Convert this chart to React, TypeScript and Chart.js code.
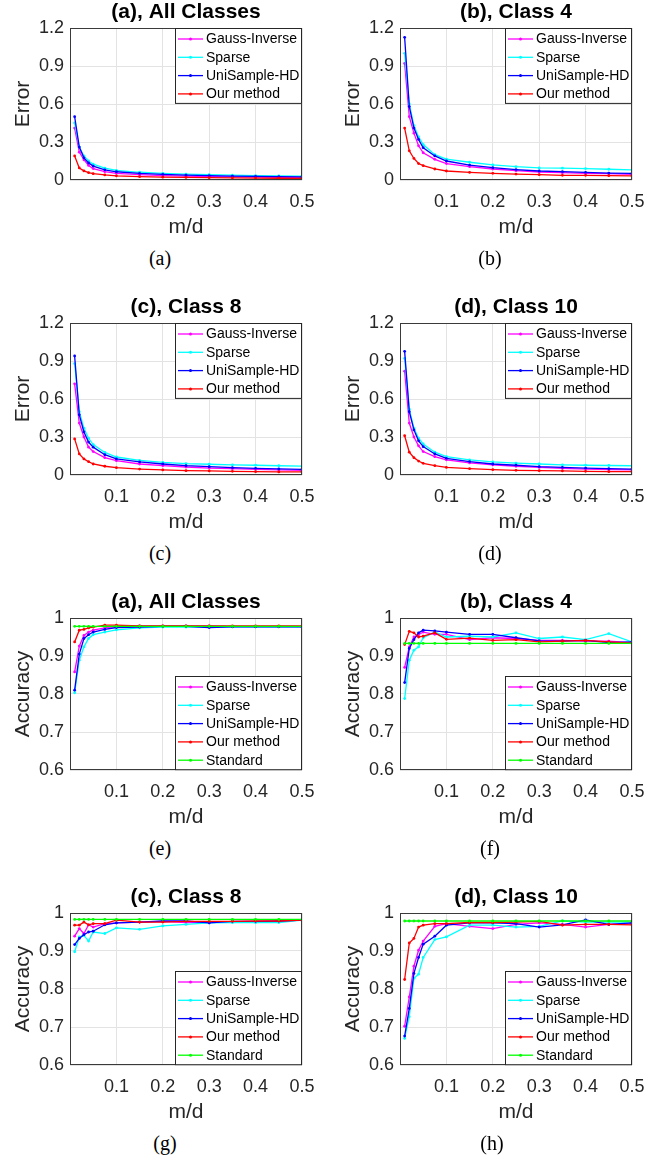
import React, { useEffect, useRef } from "react";
import { Chart, registerables } from "chart.js";
Chart.register(...registerables);

const mdValues = [0.01, 0.02, 0.03, 0.04, 0.05, 0.075, 0.1, 0.15, 0.2, 0.25, 0.3, 0.35, 0.4, 0.45, 0.5];
const xTickValues = [0.1, 0.2, 0.3, 0.4, 0.5];
const errorTicks = [0, 0.3, 0.6, 0.9, 1.2];
const accuracyTicks = [0.6, 0.7, 0.8, 0.9, 1];
const seriesNames = ["Gauss-Inverse", "Sparse", "UniSample-HD", "Our method", "Standard"];
const seriesColors = ["#ff00ff", "#00ffff", "#0000ff", "#ff0000", "#00ff00"];

// Error, all classes
const errAllGauss = [0.41, 0.22, 0.16, 0.115, 0.09, 0.066, 0.053, 0.042, 0.035, 0.03, 0.027, 0.025, 0.023, 0.021, 0.02];
const errAllSparse = [0.45, 0.26, 0.19, 0.15, 0.125, 0.093, 0.076, 0.061, 0.052, 0.046, 0.042, 0.038, 0.035, 0.033, 0.031];
const errAllUni = [0.5, 0.26, 0.175, 0.135, 0.11, 0.08, 0.065, 0.052, 0.045, 0.039, 0.034, 0.031, 0.028, 0.026, 0.024];
const errAllOurs = [0.19, 0.095, 0.072, 0.058, 0.05, 0.04, 0.033, 0.026, 0.022, 0.02, 0.018, 0.016, 0.015, 0.014, 0.013];
// Error, class 4
const errC4Gauss = [0.92, 0.5, 0.37, 0.27, 0.215, 0.163, 0.13, 0.105, 0.087, 0.074, 0.063, 0.058, 0.053, 0.05, 0.045];
const errC4Sparse = [1.0, 0.6, 0.43, 0.34, 0.28, 0.2, 0.165, 0.14, 0.12, 0.105, 0.095, 0.093, 0.09, 0.085, 0.08];
const errC4Uni = [1.126, 0.58, 0.41, 0.32, 0.255, 0.19, 0.15, 0.118, 0.097, 0.082, 0.071, 0.066, 0.06, 0.055, 0.053];
const errC4Ours = [0.41, 0.23, 0.17, 0.13, 0.113, 0.087, 0.071, 0.06, 0.053, 0.047, 0.042, 0.037, 0.037, 0.034, 0.032];
// Error, class 8
const errC8Gauss = [0.72, 0.41, 0.3, 0.22, 0.185, 0.137, 0.113, 0.087, 0.074, 0.063, 0.055, 0.05, 0.045, 0.04, 0.037];
const errC8Sparse = [0.88, 0.5, 0.37, 0.29, 0.24, 0.178, 0.142, 0.115, 0.1, 0.09, 0.085, 0.08, 0.077, 0.073, 0.07];
const errC8Uni = [0.94, 0.475, 0.34, 0.26, 0.22, 0.16, 0.127, 0.103, 0.087, 0.074, 0.066, 0.058, 0.053, 0.048, 0.045];
const errC8Ours = [0.285, 0.166, 0.127, 0.105, 0.087, 0.069, 0.058, 0.047, 0.04, 0.034, 0.032, 0.029, 0.026, 0.024, 0.024];
// Error, class 10
const errC10Gauss = [0.82, 0.41, 0.3, 0.23, 0.185, 0.145, 0.12, 0.095, 0.08, 0.069, 0.06, 0.053, 0.047, 0.042, 0.04];
const errC10Sparse = [0.92, 0.52, 0.37, 0.29, 0.245, 0.18, 0.145, 0.12, 0.103, 0.093, 0.087, 0.08, 0.077, 0.075, 0.073];
const errC10Uni = [0.976, 0.5, 0.356, 0.27, 0.224, 0.166, 0.132, 0.106, 0.087, 0.077, 0.066, 0.06, 0.055, 0.05, 0.047];
const errC10Ours = [0.31, 0.18, 0.137, 0.11, 0.092, 0.074, 0.06, 0.05, 0.042, 0.037, 0.034, 0.032, 0.029, 0.026, 0.026];

// Accuracy, all classes
const accAllGauss = [0.858, 0.926, 0.954, 0.963, 0.968, 0.974, 0.978, 0.979, 0.979, 0.979, 0.979, 0.978, 0.978, 0.978, 0.978];
const accAllSparse = [0.803, 0.889, 0.924, 0.946, 0.956, 0.963, 0.969, 0.974, 0.976, 0.976, 0.977, 0.977, 0.977, 0.977, 0.977];
const accAllUni = [0.81, 0.905, 0.946, 0.956, 0.963, 0.97, 0.975, 0.976, 0.978, 0.978, 0.975, 0.977, 0.977, 0.977, 0.977];
const accAllOurs = [0.937, 0.968, 0.97, 0.974, 0.976, 0.981, 0.981, 0.979, 0.979, 0.979, 0.979, 0.979, 0.979, 0.979, 0.979];
const accAllStd = [0.978, 0.978, 0.978, 0.978, 0.978, 0.978, 0.978, 0.978, 0.978, 0.978, 0.978, 0.978, 0.978, 0.978, 0.978];
// Accuracy, class 4
const accC4Gauss = [0.87, 0.924, 0.95, 0.956, 0.963, 0.957, 0.957, 0.943, 0.948, 0.946, 0.941, 0.941, 0.939, 0.939, 0.935];
const accC4Sparse = [0.788, 0.889, 0.915, 0.924, 0.948, 0.963, 0.95, 0.952, 0.95, 0.961, 0.946, 0.95, 0.943, 0.959, 0.937];
const accC4Uni = [0.83, 0.92, 0.943, 0.961, 0.968, 0.966, 0.963, 0.957, 0.957, 0.948, 0.94, 0.939, 0.941, 0.935, 0.937];
const accC4Ours = [0.93, 0.965, 0.961, 0.95, 0.952, 0.961, 0.944, 0.947, 0.941, 0.943, 0.937, 0.939, 0.941, 0.937, 0.934];
const accC4Std = [0.933, 0.933, 0.933, 0.933, 0.933, 0.933, 0.933, 0.933, 0.933, 0.933, 0.933, 0.933, 0.933, 0.933, 0.933];
// Accuracy, class 8
const accC8Gauss = [0.939, 0.959, 0.946, 0.969, 0.963, 0.972, 0.974, 0.976, 0.978, 0.975, 0.976, 0.976, 0.976, 0.978, 0.981];
const accC8Sparse = [0.898, 0.937, 0.941, 0.926, 0.95, 0.946, 0.961, 0.957, 0.966, 0.97, 0.974, 0.975, 0.975, 0.975, 0.981];
const accC8Uni = [0.917, 0.933, 0.943, 0.95, 0.952, 0.969, 0.974, 0.976, 0.979, 0.979, 0.974, 0.978, 0.978, 0.979, 0.981];
const accC8Ours = [0.968, 0.968, 0.976, 0.969, 0.972, 0.972, 0.981, 0.976, 0.976, 0.978, 0.978, 0.978, 0.979, 0.979, 0.981];
const accC8Std = [0.983, 0.983, 0.983, 0.983, 0.983, 0.983, 0.983, 0.983, 0.983, 0.983, 0.983, 0.983, 0.983, 0.983, 0.983];
// Accuracy, class 10
const accC10Gauss = [0.702, 0.779, 0.86, 0.902, 0.926, 0.965, 0.972, 0.965, 0.959, 0.97, 0.974, 0.97, 0.963, 0.97, 0.972];
const accC10Sparse = [0.67, 0.727, 0.828, 0.839, 0.883, 0.93, 0.937, 0.968, 0.968, 0.963, 0.965, 0.979, 0.976, 0.976, 0.976];
const accC10Uni = [0.676, 0.749, 0.841, 0.883, 0.918, 0.939, 0.968, 0.974, 0.974, 0.972, 0.963, 0.969, 0.982, 0.97, 0.974];
const accC10Ours = [0.825, 0.921, 0.933, 0.963, 0.968, 0.972, 0.972, 0.975, 0.975, 0.976, 0.978, 0.968, 0.97, 0.97, 0.969];
const accC10Std = [0.979, 0.979, 0.979, 0.979, 0.979, 0.979, 0.979, 0.979, 0.979, 0.979, 0.979, 0.979, 0.979, 0.979, 0.979];

type Panel = {
  title: string;
  caption: string;
  yLabel: string;
  yMin: number;
  yMax: number;
  yTicks: number[];
  series: number[][];
  legendAtTop: boolean;
  col: number;
  row: number;
  captionX: number;
};

const panels: Panel[] = [
  { title: "(a), All Classes", caption: "(a)", yLabel: "Error", yMin: 0, yMax: 1.2, yTicks: errorTicks, series: [errAllGauss, errAllSparse, errAllUni, errAllOurs], legendAtTop: true, col: 0, row: 0, captionX: 160 },
  { title: "(b), Class 4", caption: "(b)", yLabel: "Error", yMin: 0, yMax: 1.2, yTicks: errorTicks, series: [errC4Gauss, errC4Sparse, errC4Uni, errC4Ours], legendAtTop: true, col: 1, row: 0, captionX: 160 },
  { title: "(c), Class 8", caption: "(c)", yLabel: "Error", yMin: 0, yMax: 1.2, yTicks: errorTicks, series: [errC8Gauss, errC8Sparse, errC8Uni, errC8Ours], legendAtTop: true, col: 0, row: 1, captionX: 160 },
  { title: "(d), Class 10", caption: "(d)", yLabel: "Error", yMin: 0, yMax: 1.2, yTicks: errorTicks, series: [errC10Gauss, errC10Sparse, errC10Uni, errC10Ours], legendAtTop: true, col: 1, row: 1, captionX: 160 },
  { title: "(a), All Classes", caption: "(e)", yLabel: "Accuracy", yMin: 0.6, yMax: 1, yTicks: accuracyTicks, series: [accAllGauss, accAllSparse, accAllUni, accAllOurs, accAllStd], legendAtTop: false, col: 0, row: 2, captionX: 160 },
  { title: "(b), Class 4", caption: "(f)", yLabel: "Accuracy", yMin: 0.6, yMax: 1, yTicks: accuracyTicks, series: [accC4Gauss, accC4Sparse, accC4Uni, accC4Ours, accC4Std], legendAtTop: false, col: 1, row: 2, captionX: 160 },
  { title: "(c), Class 8", caption: "(g)", yLabel: "Accuracy", yMin: 0.6, yMax: 1, yTicks: accuracyTicks, series: [accC8Gauss, accC8Sparse, accC8Uni, accC8Ours, accC8Std], legendAtTop: false, col: 0, row: 3, captionX: 165 },
  { title: "(d), Class 10", caption: "(h)", yLabel: "Accuracy", yMin: 0.6, yMax: 1, yTicks: accuracyTicks, series: [accC10Gauss, accC10Sparse, accC10Uni, accC10Ours, accC10Std], legendAtTop: false, col: 1, row: 3, captionX: 162 },
];

const CANVAS_W = 335;
const CANVAS_H = 245;
const COL_LEFT = [0, 330];
const ROW_TOP = [0, 295, 590, 885];
const AREA_TOP = 28;
const AREA_BOTTOM = 180;
const Y_AXIS_W = 70;
const RIGHT_PAD = 33;
const SANS = '"Liberation Sans", Arial, Helvetica, sans-serif';
const AXIS_COLOR = "#262626";

const decorPlugin = {
  id: "decor",
  afterDatasetsDraw(chart: any, _args: any, opts: any) {
    const { ctx, chartArea: a } = chart;
    ctx.save();
    // frame
    ctx.strokeStyle = "#3a3a3a";
    ctx.lineWidth = 1;
    ctx.strokeRect(Math.round(a.left) + 0.5, Math.round(a.top) + 0.5, Math.round(a.right - a.left) - 1, Math.round(a.bottom - a.top) - 1);
    // legend
    const n = opts.count;
    const rowH = 18.3;
    const boxW = 127;
    const boxH = 11 + (n - 1) * rowH + 10;
    const bx = Math.round(a.right - boxW);
    const by = Math.round(opts.legendAtTop ? a.top : a.bottom - boxH);
    ctx.fillStyle = "#ffffff";
    ctx.fillRect(bx, by, boxW, boxH);
    ctx.strokeStyle = AXIS_COLOR;
    ctx.strokeRect(bx + 0.5, by + 0.5, boxW - 1, boxH - 1);
    ctx.font = `14px ${SANS}`;
    ctx.textAlign = "left";
    ctx.textBaseline = "middle";
    for (let i = 0; i < n; i++) {
      const y = by + 11 + i * rowH;
      ctx.strokeStyle = seriesColors[i];
      ctx.lineWidth = 1.3;
      ctx.beginPath();
      ctx.moveTo(bx + 3, y);
      ctx.lineTo(bx + 28, y);
      ctx.stroke();
      ctx.fillStyle = seriesColors[i];
      ctx.beginPath();
      ctx.arc(bx + 15.5, y, 1.5, 0, Math.PI * 2);
      ctx.fill();
      ctx.fillStyle = "#000000";
      ctx.fillText(seriesNames[i], bx + 31, y + 0.5);
    }
    ctx.restore();
  },
  afterDraw(chart: any, _args: any, opts: any) {
    const { ctx, chartArea: a } = chart;
    const cx = (a.left + a.right) / 2;
    ctx.save();
    ctx.fillStyle = "#000000";
    ctx.font = `bold 21px ${SANS}`;
    ctx.textAlign = "center";
    ctx.textBaseline = "middle";
    ctx.fillText(opts.title, cx, a.top - 16);
    ctx.fillStyle = AXIS_COLOR;
    ctx.font = `21px ${SANS}`;
    ctx.fillText("m/d", cx, a.bottom + 47);
    ctx.translate(23.5, (a.top + a.bottom) / 2);
    ctx.rotate(-Math.PI / 2);
    ctx.fillText(opts.yLabel, 0, 0);
    ctx.restore();
  },
};

function PanelChart({ panel }: { panel: Panel }) {
  const ref = useRef<HTMLCanvasElement | null>(null);
  useEffect(() => {
    if (!ref.current) return;
    const n = panel.series.length;
    const datasets = panel.series.map((vals, i) => ({
      label: seriesNames[i],
      data: mdValues.map((x, j) => ({ x, y: vals[j] })),
      borderColor: seriesColors[i],
      backgroundColor: seriesColors[i],
      borderWidth: 1.3,
      pointRadius: 1.4,
      pointBorderWidth: 0,
      pointStyle: "circle",
      tension: 0,
      fill: false,
      order: n - i,
    }));
    const tickFont = { family: SANS, size: 18 };
    const chart = new Chart(ref.current, {
      type: "line",
      data: { datasets },
      options: {
        animation: false,
        responsive: false,
        devicePixelRatio: 1,
        layout: { padding: { top: AREA_TOP, right: RIGHT_PAD, left: 0, bottom: 0 } },
        plugins: {
          legend: { display: false },
          tooltip: { enabled: false },
          title: { display: false },
          decor: { title: panel.title, yLabel: panel.yLabel, legendAtTop: panel.legendAtTop, count: n },
        } as any,
        scales: {
          x: {
            type: "linear",
            min: 0,
            max: 0.5,
            offset: false,
            afterBuildTicks: (s: any) => {
              s.ticks = xTickValues.map((v) => ({ value: v }));
            },
            afterFit: (s: any) => {
              s.height = CANVAS_H - AREA_BOTTOM;
            },
            ticks: {
              font: tickFont,
              color: AXIS_COLOR,
              padding: 11,
              maxRotation: 0,
              autoSkip: false,
              callback: (v: any) => String(v),
            },
            grid: { color: "#e3e3e3", drawTicks: false, lineWidth: 1 },
            border: { display: false },
          },
          y: {
            type: "linear",
            min: panel.yMin,
            max: panel.yMax,
            afterBuildTicks: (s: any) => {
              s.ticks = panel.yTicks.map((v) => ({ value: v }));
            },
            afterFit: (s: any) => {
              s.width = Y_AXIS_W;
            },
            ticks: {
              font: tickFont,
              color: AXIS_COLOR,
              padding: 6,
              autoSkip: false,
              callback: (v: any) => String(v),
            },
            grid: { color: "#e3e3e3", drawTicks: false, lineWidth: 1 },
            border: { display: false },
          },
        },
      } as any,
      plugins: [decorPlugin as any],
    });
    return () => chart.destroy();
  }, [panel]);

  const left = COL_LEFT[panel.col];
  const top = ROW_TOP[panel.row];
  return (
    <>
      <canvas
        ref={ref}
        width={CANVAS_W}
        height={CANVAS_H}
        style={{ position: "absolute", left, top, width: CANVAS_W, height: CANVAS_H }}
      />
      <div
        style={{
          position: "absolute",
          left: left + panel.captionX - 50,
          top: top + AREA_BOTTOM + 78 - 11,
          width: 100,
          textAlign: "center",
          font: '20px "Liberation Serif", "Times New Roman", serif',
          lineHeight: "22px",
          color: "#000",
        }}
      >
        {panel.caption}
      </div>
    </>
  );
}

export default function App() {
  return (
    <div style={{ position: "absolute", left: 0, top: 0, width: 671, height: 1160, background: "#fff", overflow: "hidden" }}>
      {panels.map((p, i) => (
        <PanelChart key={i} panel={p} />
      ))}
    </div>
  );
}
